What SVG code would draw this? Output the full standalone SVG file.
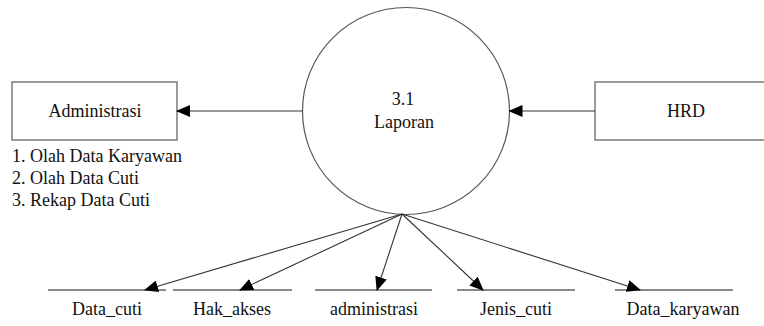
<svg xmlns="http://www.w3.org/2000/svg" width="764" height="326" viewBox="0 0 764 326">
  <style>
    .box { fill: #fff; stroke: #7a7a7a; stroke-width: 1.5; }
    .proc { fill: #fff; stroke: #555; stroke-width: 1.2; }
    .flow { fill: none; stroke: #333; stroke-width: 1.1; marker-end: url(#arrow); }
    .store { stroke: #8a8a8a; stroke-width: 2; }
    text { font-size: 18px; fill: #111; }
    .c { text-anchor: middle; }
  </style>
  <defs>
    <marker id="arrow" markerUnits="userSpaceOnUse" markerWidth="14" markerHeight="12" refX="13" refY="6" orient="auto">
      <path d="M0,0 L14,6 L0,12 Z" fill="#000"/>
    </marker>
  </defs>

  <g font-family="'Liberation Serif', 'Tinos', 'DejaVu Serif', serif">
    <!-- external entity: Administrasi -->
    <g id="administrasi-entity">
      <rect class="box" x="12" y="82" width="165" height="58"/>
      <text class="c" x="95" y="117">Administrasi</text>
      <text x="12" y="162">1. Olah Data Karyawan</text>
      <text x="12" y="184">2. Olah Data Cuti</text>
      <text x="12" y="206">3. Rekap Data Cuti</text>
    </g>

    <!-- process 3.1 -->
    <g id="process-3-1">
      <circle class="proc" cx="406" cy="111" r="103.5"/>
      <text class="c" x="403" y="105">3.1</text>
      <text class="c" x="404" y="128">Laporan</text>
    </g>

    <!-- external entity: HRD -->
    <g id="hrd-entity">
      <rect class="box" x="595" y="82" width="182" height="58"/>
      <text class="c" x="686" y="117">HRD</text>
    </g>

    <!-- data stores -->
    <g id="store-data-cuti">
      <line class="store" x1="48" y1="290" x2="166" y2="290"/>
      <text class="c" x="107" y="315">Data_cuti</text>
    </g>
    <g id="store-hak-akses">
      <line class="store" x1="173" y1="290" x2="292" y2="290"/>
      <text class="c" x="232" y="315">Hak_akses</text>
    </g>
    <g id="store-administrasi">
      <line class="store" x1="315" y1="290" x2="432" y2="290"/>
      <text class="c" x="374" y="315">administrasi</text>
    </g>
    <g id="store-jenis-cuti">
      <line class="store" x1="457" y1="290" x2="575" y2="290"/>
      <text class="c" x="516" y="315">Jenis_cuti</text>
    </g>
    <g id="store-data-karyawan">
      <line class="store" x1="615" y1="290" x2="733" y2="290"/>
      <text class="c" x="683" y="315">Data_karyawan</text>
    </g>
  </g>

  <!-- data flows -->
  <g id="connectors">
    <line class="flow" x1="302.5" y1="111" x2="177" y2="111"/>
    <line class="flow" x1="595" y1="111" x2="509.5" y2="111"/>
    <line class="flow" x1="402" y1="214" x2="145" y2="290"/>
    <line class="flow" x1="402" y1="214" x2="240" y2="290"/>
    <line class="flow" x1="402" y1="214" x2="377" y2="290"/>
    <line class="flow" x1="402" y1="214" x2="483" y2="290"/>
    <line class="flow" x1="402" y1="214" x2="640" y2="290"/>
  </g>
</svg>
